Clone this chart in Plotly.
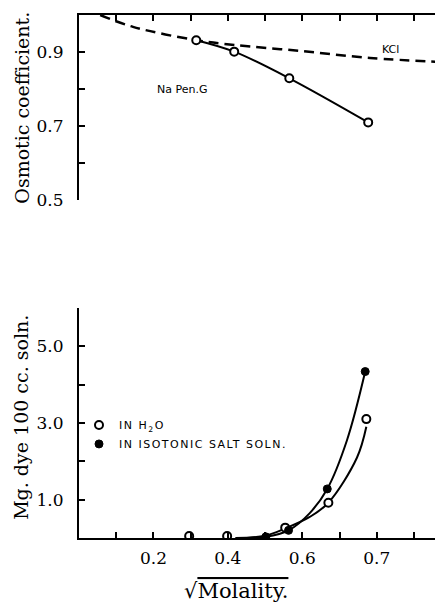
import plotly.graph_objects as go
from plotly.subplots import make_subplots

# ---- data ----
napen_x = [0.315, 0.417, 0.565, 0.777]
napen_y = [0.932, 0.901, 0.829, 0.710]

kcl_x = [0.057, 0.145, 0.315, 0.417, 0.594, 0.782, 0.978]
kcl_y = [1.000, 0.968, 0.932, 0.919, 0.903, 0.884, 0.873]

h2o_x = [0.296, 0.398, 0.554, 0.670, 0.772]
h2o_y = [0.05, 0.05, 0.27, 0.92, 3.10]
salt_x = [0.502, 0.563, 0.667, 0.769]
salt_y = [0.03, 0.20, 1.28, 4.34]

h2o_curve_x = [0.42, 0.50, 0.554, 0.62, 0.670, 0.747, 0.772]
h2o_curve_y = [0.00, 0.06, 0.25, 0.55, 0.92, 2.10, 2.90]
salt_curve_x = [0.45, 0.502, 0.563, 0.62, 0.667, 0.72, 0.769]
salt_curve_y = [0.00, 0.03, 0.20, 0.65, 1.28, 2.55, 4.34]

x_tickvals = [0.1, 0.2, 0.3, 0.4, 0.5, 0.6, 0.7, 0.8, 0.9]
x_ticktext = ["", "0.2", "", "0.4", "", "0.6", "", "0.7", ""]
top_y_tickvals = [0.5, 0.6, 0.7, 0.8, 0.9]
top_y_ticktext = ["0.5", "", "0.7", "", "0.9"]
bot_y_tickvals = [1, 2, 3, 4, 5]
bot_y_ticktext = ["1.0", "", "3.0", "", "5.0"]

SERIF = "DejaVu Serif"
SANS = "DejaVu Sans"

fig = make_subplots(rows=2, cols=1)

# top panel
fig.add_trace(go.Scatter(x=kcl_x, y=kcl_y, mode="lines", line=dict(color="black", width=2.5, dash="10px,6px"),
                         line_shape="spline", showlegend=False), row=1, col=1)
fig.add_trace(go.Scatter(x=napen_x, y=napen_y, mode="lines", line=dict(color="black", width=2),
                         line_shape="spline", showlegend=False), row=1, col=1)
fig.add_trace(go.Scatter(x=napen_x, y=napen_y, mode="markers",
                         marker=dict(symbol="circle", size=8, color="white", line=dict(color="black", width=2)),
                         showlegend=False), row=1, col=1)

# bottom panel
fig.add_trace(go.Scatter(x=h2o_curve_x, y=h2o_curve_y, mode="lines", line=dict(color="black", width=2),
                         line_shape="spline", showlegend=False), row=2, col=1)
fig.add_trace(go.Scatter(x=salt_curve_x, y=salt_curve_y, mode="lines", line=dict(color="black", width=2),
                         line_shape="spline", showlegend=False), row=2, col=1)
fig.add_trace(go.Scatter(x=h2o_x, y=h2o_y, mode="markers",
                         name="<span style='letter-spacing:1.5px'>IN H<sub>2</sub>O</span>",
                         marker=dict(symbol="circle", size=8, color="white", line=dict(color="black", width=2))),
              row=2, col=1)
fig.add_trace(go.Scatter(x=salt_x, y=salt_y, mode="markers",
                         name="<span style='letter-spacing:1.5px'>IN ISOTONIC SALT SOLN.</span>",
                         marker=dict(symbol="circle", size=8, color="black", line=dict(color="black", width=1))),
              row=2, col=1)

axis_common = dict(showgrid=False, zeroline=False, showline=True, linecolor="black", linewidth=2,
                   ticks="inside", ticklen=6, tickwidth=1.5, tickcolor="black", automargin=False,
                   tickfont=dict(family=SERIF, size=17, color="black"))

fig.update_layout(
    xaxis=dict(**axis_common, range=[0, 0.978], side="top", tickvals=x_tickvals, showticklabels=False,
               domain=[0, 1]),
    yaxis=dict(**axis_common, range=[0.5, 1.0], tickvals=top_y_tickvals, ticktext=top_y_ticktext,
               domain=[0.646, 1.0], ticklabelstandoff=10),
    xaxis2=dict(**axis_common, range=[0, 0.978], tickvals=x_tickvals, ticktext=x_ticktext, domain=[0, 1],
                ticklabelstandoff=4),
    yaxis2=dict(**axis_common, range=[0, 6.0], tickvals=bot_y_tickvals, ticktext=bot_y_ticktext,
                domain=[0, 0.44], ticklabelstandoff=10),
)

title_font = dict(family=SERIF, size=19, color="black")
fig.add_annotation(x=-0.159, y=0.823, xref="paper", yref="paper", text="Osmotic coefficient.",
                   textangle=-90, showarrow=False, font=title_font, xanchor="center", yanchor="middle")
fig.add_annotation(x=-0.159, y=0.23, xref="paper", yref="paper", text="Mg. dye 100 cc. soln.",
                   textangle=-90, showarrow=False, font=title_font, xanchor="center", yanchor="middle")
fig.add_annotation(x=0.43, y=-0.101, xref="paper", yref="paper",
                   text="\u221a<span style='text-decoration:overline'>Molality.</span>",
                   showarrow=False, font=dict(family=SERIF, size=21, color="black"),
                   xanchor="center", yanchor="middle")

fig.add_annotation(x=0.836, y=0.908, xref="x", yref="y", text="KCl", showarrow=False,
                   font=dict(family=SANS, size=11, color="black"))
fig.add_annotation(x=0.277, y=0.80, xref="x", yref="y", text="Na Pen.G", showarrow=False,
                   font=dict(family=SANS, size=11, color="black"))

# the page body adds an 8px offset, so the figure is 8px smaller than the window
fig.update_layout(
    width=435, height=596,
    margin=dict(l=71, r=0, t=7, b=66, autoexpand=False),
    paper_bgcolor="white", plot_bgcolor="white",
    showlegend=True,
    legend=dict(x=0.0, y=0.198, xref="paper", yref="paper", xanchor="left", yanchor="middle",
                font=dict(family=SANS, size=11, color="black"), bgcolor="rgba(0,0,0,0)",
                itemwidth=30),
)

fig.write_html("out.html")
